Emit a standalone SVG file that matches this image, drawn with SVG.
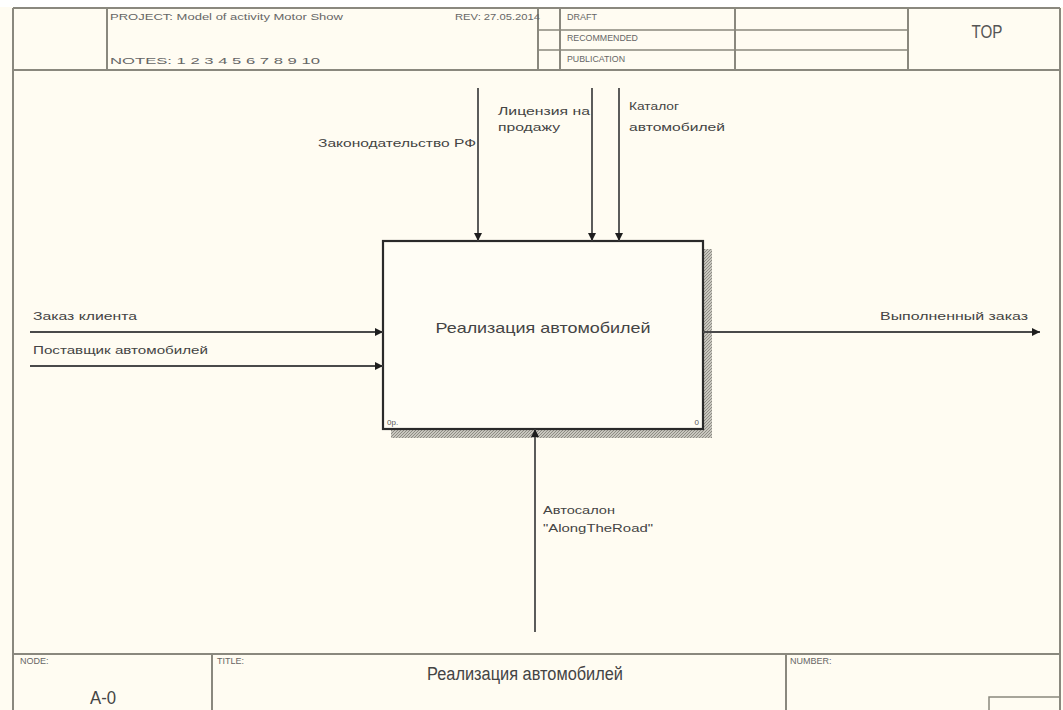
<svg xmlns="http://www.w3.org/2000/svg" width="1063" height="710" viewBox="0 0 1063 710">
<defs>
<style>
.frame{fill:none;stroke:#8a887e;stroke-width:2}
.thin{fill:none;stroke:#8a887e;stroke-width:1.5}
.hdr{font-family:"Liberation Sans",Arial,sans-serif;font-size:9px;fill:#666}
.lbl{font-family:"Liberation Sans",Arial,sans-serif;font-size:11.5px;fill:#444}
.arrow{fill:none;stroke:#4a4a4a;stroke-width:1.8;marker-end:url(#ah)}
</style>
<marker id="ah" viewBox="0 0 10 10" refX="10" refY="5" markerWidth="9" markerHeight="8" orient="auto" markerUnits="userSpaceOnUse">
<path d="M0,0 L10,5 L0,10 z" fill="#1e1e1e"/>
</marker>
<pattern id="hatch" width="3" height="3" patternUnits="userSpaceOnUse">
<rect width="3" height="3" fill="#c8c6be"/>
<path d="M0,3 L3,0" stroke="#8e8c84" stroke-width="1"/>
</pattern>
</defs>
<rect x="0" y="0" width="1063" height="710" fill="#fffcf2"/>
<rect x="0" y="0" width="1063" height="7" fill="#ffffff"/>

<g id="header">
<path class="frame" d="M13,8 H1060 M13,8 V710 M1060,8 V710 M13,70 H1060 M107,8 V70 M538,8 V70 M560,8 V70 M735,8 V70 M908,8 V70"/>
<path class="thin" d="M538,30 H908 M538,50 H908"/>
<text class="hdr" x="110" y="20" textLength="233" lengthAdjust="spacingAndGlyphs">PROJECT:  Model of activity Motor Show</text>
<text class="hdr" x="455" y="20" textLength="85" lengthAdjust="spacingAndGlyphs">REV:  27.05.2014</text>
<text class="hdr" x="110" y="64" textLength="210" lengthAdjust="spacingAndGlyphs">NOTES:  1  2  3  4  5  6  7  8  9  10</text>
<text class="hdr" x="567" y="20" textLength="30" lengthAdjust="spacingAndGlyphs">DRAFT</text>
<text class="hdr" x="567" y="41" textLength="71" lengthAdjust="spacingAndGlyphs">RECOMMENDED</text>
<text class="hdr" x="567" y="62" textLength="58" lengthAdjust="spacingAndGlyphs">PUBLICATION</text>
<text x="987" y="38" font-family="'Liberation Sans',Arial,sans-serif" font-size="18" fill="#555" text-anchor="middle" textLength="31" lengthAdjust="spacingAndGlyphs">TOP</text>
</g>

<g id="footer">
<path class="frame" d="M13,654 H1060 M212,654 V710 M786,654 V710"/>
<path class="thin" d="M989,710 V697 H1060"/>
<text class="hdr" x="20" y="664" font-size="8">NODE:</text>
<text class="hdr" x="217" y="664" font-size="8">TITLE:</text>
<text class="hdr" x="790" y="664" font-size="8">NUMBER:</text>
<text x="103" y="704" font-family="'Liberation Sans',Arial,sans-serif" font-size="18" fill="#444" text-anchor="middle" textLength="26" lengthAdjust="spacingAndGlyphs">A-0</text>
<text x="525" y="680" font-family="'Liberation Sans',Arial,sans-serif" font-size="18" fill="#444" text-anchor="middle" textLength="196" lengthAdjust="spacingAndGlyphs">Реализация автомобилей</text>
</g>

<g id="A0">
<path d="M703,249 H712 V438 H391 V429 H703 Z" fill="url(#hatch)"/>
<rect x="383" y="241" width="320" height="188" fill="#fffdf5" stroke="#2a2a2a" stroke-width="2.2"/>
<text x="543" y="333" font-family="'Liberation Sans',Arial,sans-serif" font-size="15" fill="#444" text-anchor="middle" textLength="215" lengthAdjust="spacingAndGlyphs">Реализация автомобилей</text>
<text x="387" y="425" font-family="'Liberation Sans',Arial,sans-serif" font-size="8" fill="#555">0р.</text>
<text x="699" y="425" font-family="'Liberation Sans',Arial,sans-serif" font-size="8" fill="#555" text-anchor="end">0</text>
</g>

<g id="connectors">
<line class="arrow" x1="478" y1="88" x2="478" y2="241"/>
<line class="arrow" x1="592" y1="88" x2="592" y2="241"/>
<line class="arrow" x1="619" y1="88" x2="619" y2="241"/>
<line class="arrow" x1="30" y1="332" x2="383" y2="332"/>
<line class="arrow" x1="30" y1="366" x2="383" y2="366"/>
<line class="arrow" x1="703" y1="332" x2="1040" y2="332"/>
<line class="arrow" x1="535" y1="632" x2="535" y2="429"/>
</g>

<g id="labels">
<text class="lbl" x="476" y="147" text-anchor="end" textLength="158" lengthAdjust="spacingAndGlyphs">Законодательство РФ</text>
<text class="lbl" x="498" y="115" textLength="92" lengthAdjust="spacingAndGlyphs">Лицензия на</text>
<text class="lbl" x="498" y="131" textLength="62" lengthAdjust="spacingAndGlyphs">продажу</text>
<text class="lbl" x="629" y="110" textLength="50" lengthAdjust="spacingAndGlyphs">Каталог</text>
<text class="lbl" x="629" y="131" textLength="96" lengthAdjust="spacingAndGlyphs">автомобилей</text>
<text class="lbl" x="33" y="320" textLength="104" lengthAdjust="spacingAndGlyphs">Заказ клиента</text>
<text class="lbl" x="33" y="354" textLength="175" lengthAdjust="spacingAndGlyphs">Поставщик автомобилей</text>
<text class="lbl" x="1028" y="320" text-anchor="end" textLength="148" lengthAdjust="spacingAndGlyphs">Выполненный заказ</text>
<text class="lbl" x="543" y="514" textLength="72" lengthAdjust="spacingAndGlyphs">Автосалон</text>
<text class="lbl" x="543" y="532" textLength="110" lengthAdjust="spacingAndGlyphs">"AlongTheRoad"</text>
</g>
</svg>
